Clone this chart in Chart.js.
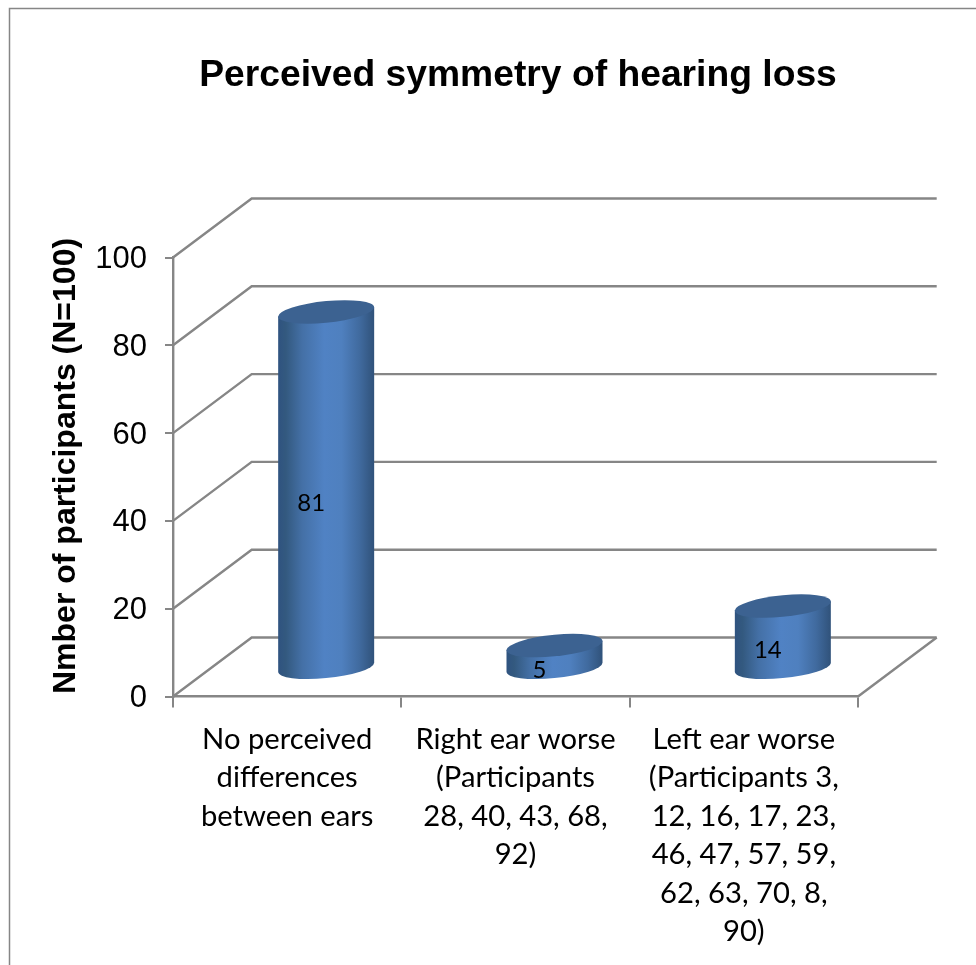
<!DOCTYPE html>
<html>
<head>
<meta charset="utf-8">
<style>html,body{margin:0;padding:0;background:#fff;overflow:hidden}canvas{display:block}</style>
<script src="https://cdn.jsdelivr.net/npm/chart.js@4"></script>
</head>
<body>
<canvas id="c" width="976" height="965"></canvas>
<script>
const chartTitle = 'Perceived symmetry of hearing loss';
const yAxisTitle = 'Nmber of participants (N=100)';
const categories = [
  ['No perceived', 'differences', 'between ears'],
  ['Right ear worse', '(Participants', '28, 40, 43, 68,', '92)'],
  ['Left ear worse', '(Participants 3,', '12, 16, 17, 23,', '46, 47, 57, 59,', '62, 63, 70, 8,', '90)']
];
const seriesValues = [81, 5, 14];
const axisMin = 0, axisMax = 100, axisStep = 20;

const GRID = '#868686';
const DEPTH_X = 78.7, DEPTH_Y = 59;

function ellipsePath(ctx, cx, cy, rx, ry, start, end, ccw) {
  ctx.save();
  ctx.transform(1, -0.095, 0, 1, cx, cy);
  ctx.ellipse(0, 0, rx, ry, 0, start, end, !!ccw);
  ctx.restore();
}

const scene3d = {
  id: 'scene3d',
  afterLayout(chart) {
    if (chart.titleBlock) { chart.titleBlock.left += 5; }
    const s = chart.scales.y, orig = s.drawTitle;
    s.drawTitle = function () {
      const b = this.bottom;
      this.bottom = b - 2.5;
      orig.call(this);
      this.bottom = b;
    };
  },
  beforeDraw(chart) {
    const c = chart.ctx;
    c.save();
    c.strokeStyle = GRID;
    c.lineWidth = 1.5;
    c.beginPath();
    c.moveTo(9.5, 965); c.lineTo(9.5, 8.5); c.lineTo(976, 8.5);
    c.stroke();
    c.restore();
  },
  beforeDatasetsDraw(chart) {
    const c = chart.ctx, y = chart.scales.y, x = chart.scales.x;
    c.save();
    c.strokeStyle = GRID;
    c.lineWidth = 2.4;
    y.ticks.forEach(t => {
      const py = y.getPixelForValue(t.value);
      c.beginPath();
      c.moveTo(x.left, py);
      c.lineTo(x.left + DEPTH_X, py - DEPTH_Y);
      c.lineTo(x.right + DEPTH_X, py - DEPTH_Y);
      c.stroke();
    });
    const p0 = y.getPixelForValue(0);
    c.beginPath();
    c.moveTo(x.right, p0);
    c.lineTo(x.right + DEPTH_X, p0 - DEPTH_Y);
    c.stroke();
    c.restore();
  },
  afterDatasetsDraw(chart) {
    const c = chart.ctx;
    const meta = chart.getDatasetMeta(0);
    meta.data.forEach((el, i) => {
      const rx = el.width / 2, ry = 10.8;
      const cx = el.x + 39;
      const top = el.y - DEPTH_Y / 2 + 0.5;
      const bot = el.base - DEPTH_Y / 2 + 1.3;
      const g = c.createLinearGradient(cx - rx, 0, cx + rx, 0);
      g.addColorStop(0, '#2f5380');
      g.addColorStop(0.08, '#33597f');
      g.addColorStop(0.25, '#4470a6');
      g.addColorStop(0.48, '#5082c4');
      g.addColorStop(0.66, '#4f80bf');
      g.addColorStop(0.85, '#406a9e');
      g.addColorStop(1, '#30527a');
      c.save();
      c.fillStyle = g;
      c.beginPath();
      c.moveTo(cx - rx, top + rx * 0.095);
      ellipsePath(c, cx, bot, rx, ry, Math.PI, 0, true);
      c.lineTo(cx + rx, top - rx * 0.095);
      c.closePath();
      c.fill();
      c.fillStyle = '#3c6291';
      c.beginPath();
      ellipsePath(c, cx, top, rx, ry, 0, Math.PI * 2);
      c.fill();
      c.fillStyle = '#000';
      c.font = '24px Lato';
      c.textAlign = 'center';
      c.textBaseline = 'middle';
      c.fillText(String(seriesValues[i]), el.x + 24, (el.y + el.base) / 2 - 15);
      c.restore();
    });
  }
};

new Chart(document.getElementById('c'), {
  type: 'bar',
  data: {
    labels: categories,
    datasets: [{
      data: seriesValues,
      backgroundColor: 'rgba(0,0,0,0)',
      borderWidth: 0,
      barThickness: 96
    }]
  },
  options: {
    responsive: false,
    animation: false,
    events: [],
    layout: { autoPadding: false, padding: { left: 0, right: 118, top: 0, bottom: 0 } },
    plugins: {
      legend: { display: false },
      tooltip: { enabled: false },
      title: {
        display: true,
        text: chartTitle,
        fullSize: false,
        color: '#000',
        font: { family: 'Liberation Sans', size: 37.25, weight: 'bold', lineHeight: 1.2 },
        padding: { top: 53, bottom: 159.8 }
      }
    },
    scales: {
      x: {
        offset: true,
        border: { color: GRID, width: 2.4 },
        grid: { offset: true, drawOnChartArea: false, drawTicks: true, tickLength: 11, color: GRID, lineWidth: 2 },
        ticks: {
          autoSkip: false, maxRotation: 0, minRotation: 0, padding: 12.5, color: '#000',
          font: { family: 'Lato', size: 29.2, lineHeight: 1.32 }
        },
        afterFit(s) { s.height = 268.5; }
      },
      y: {
        min: axisMin, max: axisMax,
        border: { color: GRID, width: 2.4 },
        grid: { drawOnChartArea: false, drawTicks: true, tickLength: 8, color: GRID, lineWidth: 2 },
        ticks: {
          stepSize: axisStep, padding: 18, labelOffset: 2, color: '#000',
          font: { family: 'Liberation Sans', size: 31 }
        },
        title: {
          display: true, text: yAxisTitle, align: 'start', color: '#000',
          font: { family: 'Liberation Sans', size: 32, weight: 'bold', lineHeight: 1.2 },
          padding: { top: 47, bottom: 0 }
        },
        afterFit(s) { s.width = 173; }
      }
    }
  },
  plugins: [scene3d]
});
</script>
</body>
</html>
